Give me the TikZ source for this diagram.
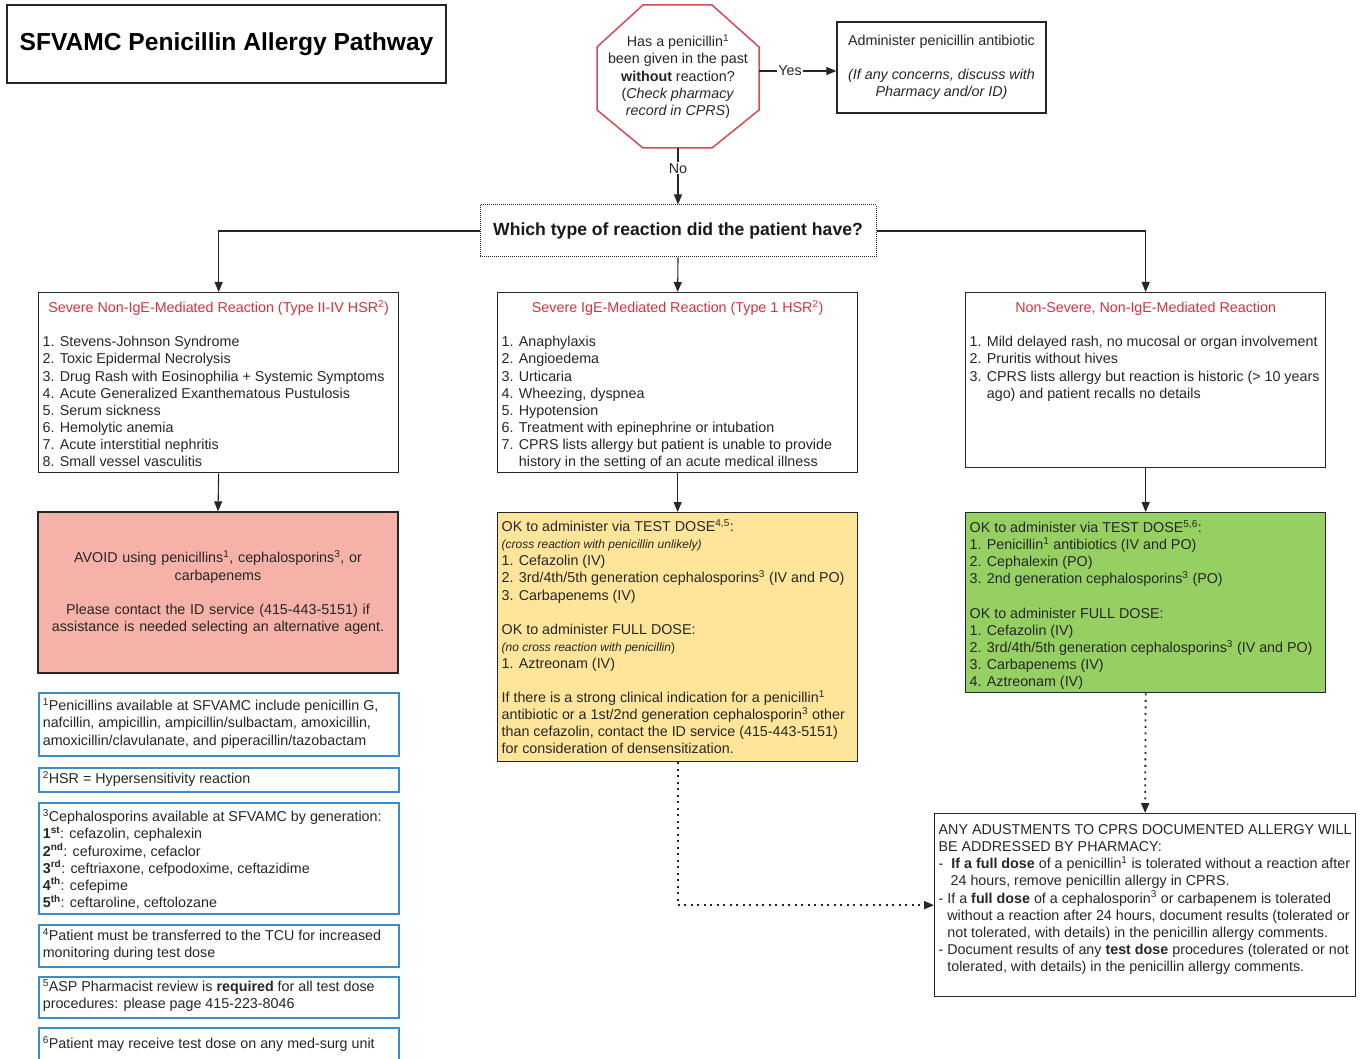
\documentclass[tikz,border=0pt]{standalone}
\usepackage{fontspec}
\setmainfont{Liberation Sans}
\usetikzlibrary{arrows.meta}

\definecolor{alertred}{RGB}{214,48,62}
\definecolor{stopred}{RGB}{218,72,82}
\definecolor{avoidfill}{RGB}{246,178,168}
\definecolor{testfill}{RGB}{255,229,153}
\definecolor{okfill}{RGB}{151,208,98}
\definecolor{notebl}{RGB}{60,140,200}

\newcommand{\bodyfont}{\fontsize{14.3}{17.1}\selectfont}
\newcommand{\noteit}{\fontsize{12}{17.1}\selectfont\itshape}
\newcommand{\titlefont}{\fontsize{24.6}{29}\selectfont\bfseries}
\newcommand{\askfont}{\fontsize{17.6}{21}\selectfont\bfseries}
% width, height, first baseline, text
\newcommand{\cellbox}[4]{\parbox[c][#2][t]{#1}{\raggedright\rightskip=0pt plus 1fil minus 40pt\rule{0pt}{#3}#4}}

\begin{document}
\begin{tikzpicture}[x=1pt, y=-1pt,
    box/.style={draw=black!85, line width=1.3pt, inner xsep=4pt, inner ysep=0pt, anchor=north west, font=\bodyfont, text=black!85},
    note/.style={box, draw=notebl, line width=1.6pt},
    link/.style={draw=black!85, line width=1.1pt, -{Triangle[length=10pt,width=8pt]}},
    dotlink/.style={link, dash pattern=on 2pt off 4.5pt, line width=1.8pt},
    lbl/.style={fill=white, inner sep=1pt, font=\bodyfont, text=black!85}]
    \useasboundingbox (0,0) rectangle (1360,1059);

    % Title
    \node[draw=black!85, line width=1.5pt, minimum width=439pt, minimum height=78pt, font=\titlefont] (title) at (226.5,44) {SFVAMC Penicillin Allergy Pathway};

    % Stop sign question
    \draw[stopred, line width=1.5pt] (643,5) -- (712,5) -- (759,47) -- (759,110) -- (712,148) -- (643,148) -- (597,110) -- (597,47) -- cycle;
    \node[minimum width=162pt, minimum height=143pt, inner sep=0pt, align=center, font=\bodyfont, text=black!85] (ask) at (678,76.5)
        {Has a penicillin\textsuperscript{1}\\ been given in the past\\ \textbf{without} reaction?\\ (\textit{Check pharmacy}\\ \textit{record in CPRS})};

    \node[box, anchor=center, minimum width=209pt, minimum height=91pt, align=center] (admin) at (941.5,67.5)
        {Administer penicillin antibiotic\\[17.1pt] \textit{(If any concerns, discuss with}\\ \textit{Pharmacy and/or ID)}};

    \node[draw=black!85, densely dotted, line width=1pt, minimum width=396pt, minimum height=52pt, font=\askfont, text=black!90] (which) at (678,231)
        {Which type of reaction did the patient have?};

    % Reaction types
    \node[box] (sev2) at (38,292) {\cellbox{352pt}{180pt}{20pt}{\hfill\textcolor{alertred}{Severe Non-IgE-Mediated Reaction (Type II-IV HSR\textsuperscript{2})}\hfill\null\\[17.1pt]
        1. Stevens-Johnson Syndrome\\
        2. Toxic Epidermal Necrolysis\\
        3. Drug Rash with Eosinophilia + Systemic Symptoms\\
        4. Acute Generalized Exanthematous Pustulosis\\
        5. Serum sickness\\
        6. Hemolytic anemia\\
        7. Acute interstitial nephritis\\
        8. Small vessel vasculitis}};

    \node[box] (sev1) at (497,292) {\cellbox{352pt}{180pt}{20pt}{\hfill\textcolor{alertred}{Severe IgE-Mediated Reaction (Type 1 HSR\textsuperscript{2})}\hfill\null\\[17.1pt]
        1. Anaphylaxis\\
        2. Angioedema\\
        3. Urticaria\\
        4. Wheezing, dyspnea\\
        5. Hypotension\\
        6. Treatment with epinephrine or intubation\\
        7. CPRS lists allergy but patient is unable to provide\\
        \phantom{7. }history in the setting of an acute medical illness}};

    \node[box] (mild) at (965,292) {\cellbox{352pt}{175pt}{20pt}{\hfill\textcolor{alertred}{Non-Severe, Non-IgE-Mediated Reaction}\hfill\null\\[17.1pt]
        1. Mild delayed rash, no mucosal or organ involvement\\
        2. Pruritis without hives\\
        3. CPRS lists allergy but reaction is historic (> 10 years\\
        \phantom{3. }ago) and patient recalls no details}};

    % What to give
    \node[box, anchor=center, fill=avoidfill, minimum width=360pt, minimum height=161pt, align=center, text width=352pt] (avoid) at (218,592.5)
        {AVOID using penicillins\textsuperscript{1}, cephalosporins\textsuperscript{3}, or\\ carbapenems\\[17.1pt] Please contact the ID service (415-443-5151) if\\ assistance is needed selecting an alternative agent.};

    \node[box, fill=testfill] (testy) at (497,512) {\cellbox{352pt}{249pt}{19pt}{OK to administer via TEST DOSE\textsuperscript{4,5}:\\
        {\noteit (cross reaction with penicillin unlikely)}\\
        1. Cefazolin (IV)\\
        2. 3rd/4th/5th generation cephalosporins\textsuperscript{3} (IV and PO)\\
        3. Carbapenems (IV)\\[17.1pt]
        OK to administer FULL DOSE:\\
        {\noteit (no cross reaction with penicillin\/}{\fontsize{12}{17.1}\selectfont)}\\
        1. Aztreonam (IV)\\[17.1pt]
        If there is a strong clinical indication for a penicillin\textsuperscript{1}\\
        antibiotic or a 1st/2nd generation cephalosporin\textsuperscript{3} other\\
        than cefazolin, contact the ID service (415-443-5151)\\
        for consideration of densensitization.}};

    \node[box, fill=okfill] (testg) at (965,512) {\cellbox{352pt}{180pt}{20pt}{OK to administer via TEST DOSE\textsuperscript{5,6}:\\
        1. Penicillin\textsuperscript{1} antibiotics (IV and PO)\\
        2. Cephalexin (PO)\\
        3. 2nd generation cephalosporins\textsuperscript{3} (PO)\\[17.1pt]
        OK to administer FULL DOSE:\\
        1. Cefazolin (IV)\\
        2. 3rd/4th/5th generation cephalosporins\textsuperscript{3} (IV and PO)\\
        3. Carbapenems (IV)\\
        4. Aztreonam (IV)}};

    \node[box] (pharm) at (934,813) {\cellbox{413pt}{183pt}{21pt}{ANY ADUSTMENTS TO CPRS DOCUMENTED ALLERGY WILL\\
        BE ADDRESSED BY PHARMACY:\\
        -\hspace{8pt}\textbf{If a full dose} of a penicillin\textsuperscript{1} is tolerated without a reaction after\\
        \hspace*{12pt}24 hours, remove penicillin allergy in CPRS.\\
        - If a \textbf{full dose} of a cephalosporin\textsuperscript{3} or carbapenem is tolerated\\
        \phantom{- }without a reaction after 24 hours, document results (tolerated or\\
        \phantom{- }not tolerated, with details) in the penicillin allergy comments.\\
        - Document results of any \textbf{test dose} procedures (tolerated or not\\
        \phantom{- }tolerated, with details) in the penicillin allergy comments.}};

    % Footnotes
    \node[note] (fn1) at (38,692) {\cellbox{352pt}{63pt}{18pt}{\textsuperscript{1}Penicillins available at SFVAMC include penicillin G,\\ nafcillin, ampicillin, ampicillin/sulbactam, amoxicillin,\\ amoxicillin/clavulanate, and piperacillin/tazobactam}};
    \node[note] (fn2) at (38,767) {\cellbox{352pt}{24pt}{16pt}{\textsuperscript{2}HSR = Hypersensitivity reaction}};
    \node[note] (fn3) at (38,802) {\cellbox{352pt}{111pt}{19pt}{\textsuperscript{3}Cephalosporins available at SFVAMC by generation:\\
        \textbf{1\textsuperscript{st}}: cefazolin, cephalexin\\
        \textbf{2\textsuperscript{nd}}: cefuroxime, cefaclor\\
        \textbf{3\textsuperscript{rd}}: ceftriaxone, cefpodoxime, ceftazidime\\
        \textbf{4\textsuperscript{th}}: cefepime\\
        \textbf{5\textsuperscript{th}}: ceftaroline, ceftolozane}};
    \node[note] (fn4) at (38,924) {\cellbox{352pt}{42pt}{16pt}{\textsuperscript{4}Patient must be transferred to the TCU for increased\\ monitoring during test dose}};
    \node[note] (fn5) at (38,976) {\cellbox{352pt}{41pt}{15pt}{\textsuperscript{5}ASP Pharmacist review is \textbf{required} for all test dose\\ procedures: please page 415-223-8046}};
    \node[note] (fn6) at (38,1027) {\cellbox{352pt}{40pt}{21pt}{\textsuperscript{6}Patient may receive test dose on any med-surg unit}};

    % Connectors
    \draw[link] ([yshift=5.5pt]ask.east) -- node[lbl, pos=.4] {Yes} ([yshift=5.5pt]ask.east -| admin.west);
    \draw[link] (ask.south) -- node[lbl, pos=.36] {No} (which.north);
    \draw[link] (which.west) -| (sev2.north);
    \draw[link] (which.south) -- (sev1.north);
    \draw[link] (which.east) -| (mild.north);
    \draw[link] (sev2.south) -- (avoid.north);
    \draw[link] (sev1.south) -- (testy.north);
    \draw[link] (mild.south) -- (testg.north);
    \draw[dotlink] (testg.south) -- (pharm.north);
    \draw[dotlink] (testy.south) |- (pharm.west);
\end{tikzpicture}
\end{document}
